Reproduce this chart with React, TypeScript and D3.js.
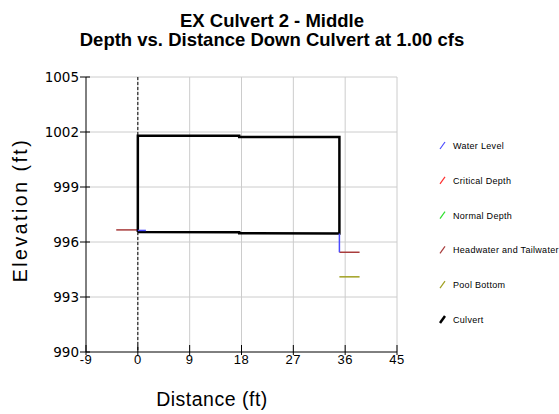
import React, { useRef, useEffect } from 'react';
import * as d3 from 'd3';

const xTicks = [-9, 0, 9, 18, 27, 36, 45];
const yTicks = [990, 993, 996, 999, 1002, 1005];

const culvertX = [0, 17.6, 17.6, 35, 35, 17.6, 17.6, 0, 0];
const culvertY = [996.55, 996.53, 996.48, 996.46, 1001.73, 1001.73, 1001.8, 1001.8, 996.55];

const waterInX = [0, 1.4];
const waterInY = [996.63, 996.63];
const waterOutX = [35, 35];
const waterOutY = [996.46, 995.44];

const headX = [-3.75, 0];
const headY = [996.66, 996.66];
const tailX = [35, 38.5];
const tailY = [995.44, 995.44];

const poolX = [35, 38.5];
const poolY = [994.1, 994.1];

const legendNames = ['Water Level', 'Critical Depth', 'Normal Depth', 'Headwater and Tailwater', 'Pool Bottom', 'Culvert'];
const legendColors = ['#4a4aff', '#ff3030', '#30e030', '#a83c3c', '#a0a020', '#000000'];

const App = () => {
  const ref = useRef(null);

  useEffect(() => {
    if (!ref.current) return;
    d3.select(ref.current).selectAll('*').remove();

    const width = 559;
    const height = 414;
    const font = 'Arial, "Liberation Sans", sans-serif';

    const svg = d3.select(ref.current)
      .append('svg')
        .attr('width', width)
        .attr('height', height)
        .style('position', 'absolute')
        .style('left', 0)
        .style('top', 0)
        .style('font-family', font);

    const x = d3.scaleLinear().domain([-9, 45]).range([86, 397]);
    const y = d3.scaleLinear().domain([990, 1005]).range([352, 77]);

    // grid
    svg.append('g').selectAll('line')
      .data(xTicks.slice(1))
      .join('line')
        .attr('x1', d => x(d)).attr('x2', d => x(d))
        .attr('y1', y(990)).attr('y2', y(1005))
        .attr('stroke', '#cccccc');
    svg.append('g').selectAll('line')
      .data(yTicks.slice(1))
      .join('line')
        .attr('x1', x(-9)).attr('x2', x(45))
        .attr('y1', d => y(d)).attr('y2', d => y(d))
        .attr('stroke', '#cccccc');

    // axes
    svg.append('line')
      .attr('x1', x(-9)).attr('x2', x(45))
      .attr('y1', y(990)).attr('y2', y(990))
      .attr('stroke', '#000');
    svg.append('line')
      .attr('x1', x(-9)).attr('x2', x(-9))
      .attr('y1', y(990)).attr('y2', y(1005))
      .attr('stroke', '#000');

    svg.append('g').selectAll('line')
      .data(xTicks)
      .join('line')
        .attr('x1', d => x(d)).attr('x2', d => x(d))
        .attr('y1', y(990) - 7).attr('y2', y(990) + 3)
        .attr('stroke', '#000');
    svg.append('g').selectAll('text')
      .data(xTicks)
      .join('text')
        .attr('x', d => x(d))
        .attr('y', y(990) + 12)
        .attr('text-anchor', 'middle')
        .style('font-size', '13px')
        .style('letter-spacing', '0.5px')
        .text(d => String(d));

    svg.append('g').selectAll('line')
      .data(yTicks)
      .join('line')
        .attr('x1', x(-9) - 6).attr('x2', x(-9) + 4)
        .attr('y1', d => y(d)).attr('y2', d => y(d))
        .attr('stroke', '#000');
    svg.append('g').selectAll('text')
      .data(yTicks)
      .join('text')
        .attr('x', x(-9) - 7)
        .attr('y', d => y(d) + 4.5)
        .attr('text-anchor', 'end')
        .style('font-family', '"DejaVu Sans", sans-serif')
        .style('font-size', '13.5px')
        .text(d => String(d));

    // dashed line at culvert inlet
    svg.append('line')
      .attr('x1', x(0)).attr('x2', x(0))
      .attr('y1', y(1005)).attr('y2', y(990))
      .attr('stroke', '#000')
      .attr('stroke-dasharray', '3,2');

    const line = d3.line<[number, number]>().x(d => x(d[0])).y(d => y(d[1]));
    const pts = (xs: number[], ys: number[]) => xs.map((v, i) => [v, ys[i]] as [number, number]);

    const drawLine = (xs: number[], ys: number[], color: string, w: number) => {
      svg.append('path')
        .attr('d', line(pts(xs, ys)))
        .attr('fill', 'none')
        .attr('stroke', color)
        .attr('stroke-width', w);
    };

    drawLine(headX, headY, legendColors[3], 1.5);
    drawLine(tailX, tailY, legendColors[3], 1.5);
    drawLine(poolX, poolY, legendColors[4], 1.5);
    drawLine(culvertX, culvertY, '#000', 2.5);
    drawLine(waterInX, waterInY, legendColors[0], 1.5);
    drawLine(waterOutX, waterOutY, legendColors[0], 1.5);

    // titles
    svg.append('text')
      .attr('x', 272).attr('y', 27)
      .attr('text-anchor', 'middle')
      .style('font-size', '18.5px').style('font-weight', 'bold')
      .text('EX Culvert 2 - Middle');
    svg.append('text')
      .attr('x', 272).attr('y', 46)
      .attr('text-anchor', 'middle')
      .style('font-size', '18.5px').style('font-weight', 'bold')
      .text('Depth vs. Distance Down Culvert at 1.00 cfs');

    svg.append('text')
      .attr('x', 212).attr('y', 406)
      .attr('text-anchor', 'middle')
      .style('font-size', '19.5px')
      .style('letter-spacing', '0.5px')
      .text('Distance (ft)');
    svg.append('text')
      .attr('transform', 'translate(27,210) rotate(-90)')
      .attr('text-anchor', 'middle')
      .style('font-size', '19.5px')
      .style('letter-spacing', '2.5px')
      .text('Elevation (ft)');

    // legend
    const legend = svg.append('g').selectAll('g')
      .data(legendNames)
      .join('g')
        .attr('transform', (d, i) => `translate(440,${146 + i * 34.8})`);
    legend.append('line')
      .attr('x1', 0).attr('y1', 3).attr('x2', 5).attr('y2', -4)
      .attr('stroke', (d, i) => legendColors[i])
      .attr('stroke-width', (d, i) => (i === 5 ? 2.5 : 1.2));
    legend.append('text')
      .attr('x', 13).attr('y', 3)
      .style('font-size', '9px')
      .style('letter-spacing', '0.3px')
      .text(d => d);
  }, []);

  return <div ref={ref} />;
};

export default App;
